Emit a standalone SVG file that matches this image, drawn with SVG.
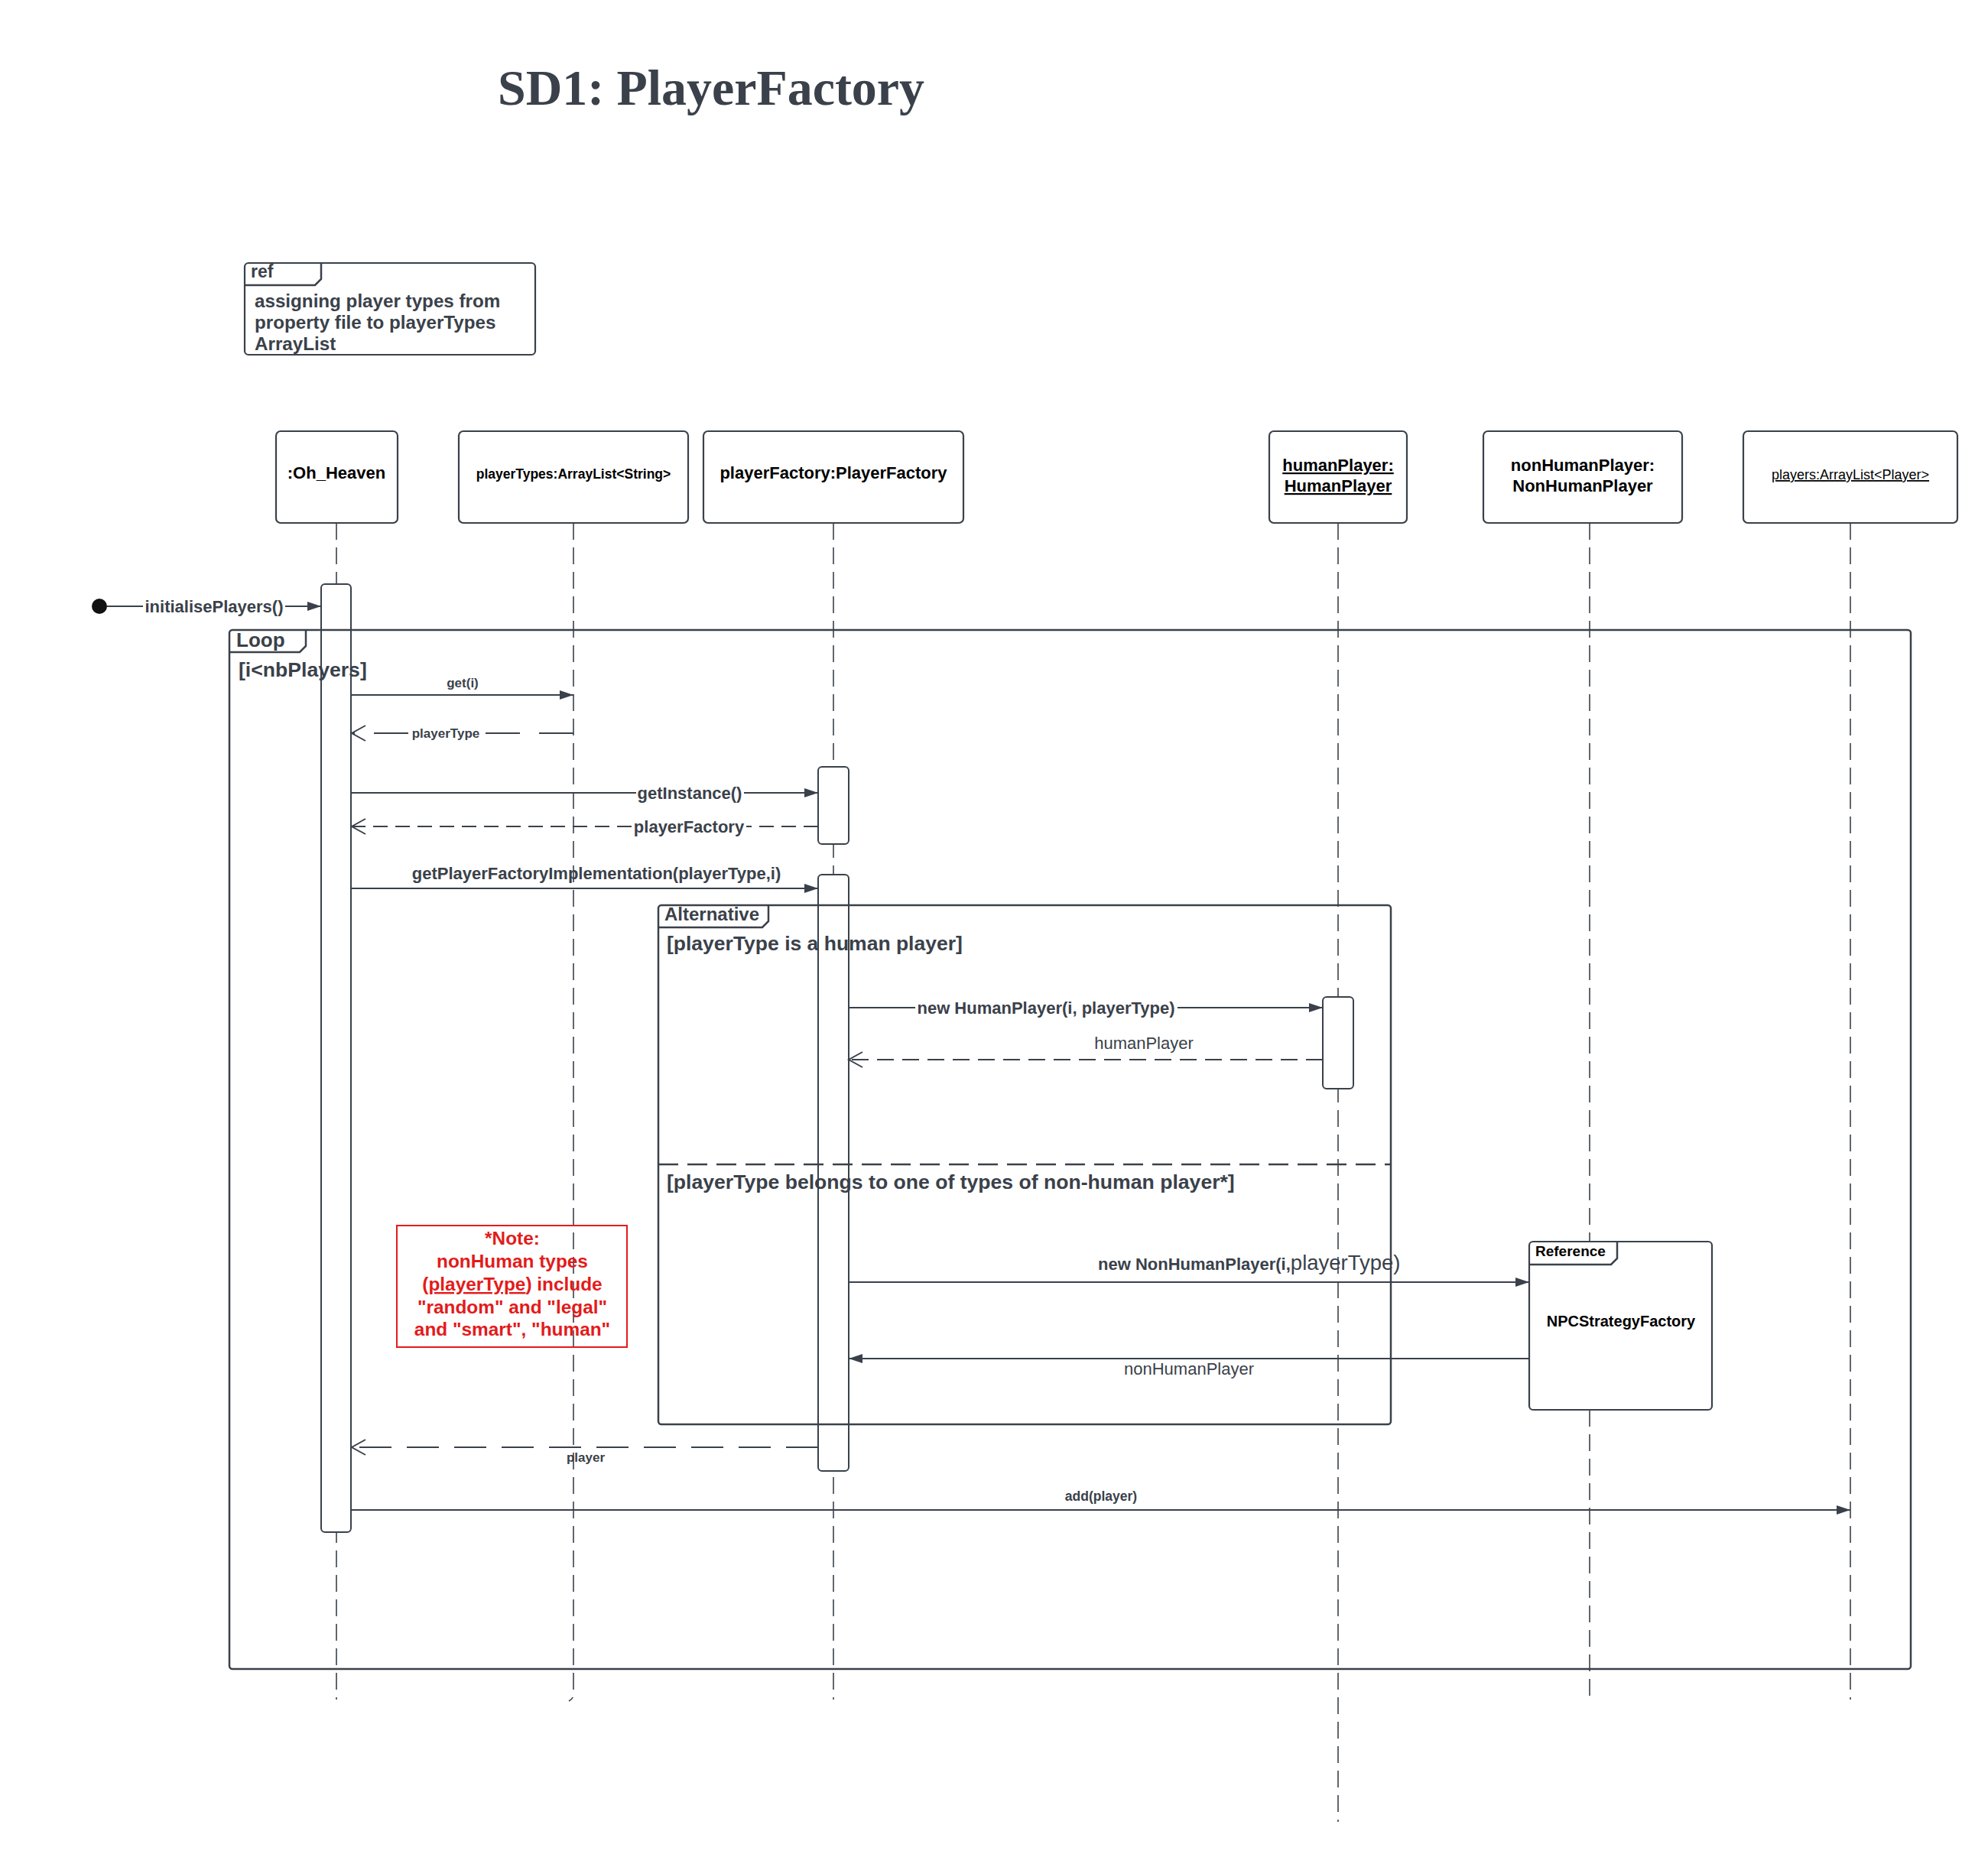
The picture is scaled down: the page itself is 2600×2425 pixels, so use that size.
<svg xmlns="http://www.w3.org/2000/svg" width="2600" height="2425" viewBox="0 0 2600 2425">
<defs>
<style>
.box{fill:#fff;stroke:#3a414a;stroke-width:2.2}
.ll{fill:none;stroke:#3a414a;stroke-width:1.6;stroke-dasharray:22 10}
.bar{fill:#fff;stroke:#3a414a;stroke-width:2}
.frame{fill:none;stroke:#3a414a;stroke-width:2.5}
.msg{fill:none;stroke:#3a414a;stroke-width:2.2}
text{font-family:"Liberation Sans",Arial,sans-serif}
.t{fill:#3a414a;font-weight:bold}
.r{fill:#3a414a;font-weight:normal}
.p{fill:#000;font-weight:bold;font-size:22px;text-anchor:middle}
.m{text-anchor:middle}
.note{fill:#e31b1b;font-weight:bold;font-size:24.4px;text-anchor:middle}
</style>
<marker id="fa" markerUnits="userSpaceOnUse" viewBox="0 0 18 12" markerWidth="18" markerHeight="12" refX="18" refY="6" orient="auto">
<path d="M0,0 L18,6 L0,12 z" fill="#3a414a"/>
</marker>
<marker id="oa" markerUnits="userSpaceOnUse" viewBox="0 0 20 22" markerWidth="20" markerHeight="22" refX="19" refY="11" orient="auto" overflow="visible">
<path d="M1,1 L19,11 L1,21" fill="none" stroke="#3a414a" stroke-width="2" stroke-dasharray="none"/>
</marker>
</defs>
<rect width="2600" height="2425" fill="#fff"/>

<text x="651" y="137" textLength="558" lengthAdjust="spacingAndGlyphs" font-weight="bold" font-size="65" fill="#3a414a" style="font-family:'Liberation Serif','Times New Roman',serif">SD1: PlayerFactory</text>

<g id="ref-assigning">
<rect class="box" x="320" y="344" width="380" height="120" rx="5"/>
<path class="frame" d="M320 373 H412 L420 365 V344"/>
<text class="t" x="328" y="363" font-size="23">ref</text>
<text class="t" font-size="24.2"><tspan x="333" y="402">assigning player types from</tspan><tspan x="333" y="430">property file to playerTypes</tspan><tspan x="333" y="458">ArrayList</tspan></text>
</g>

<g id="lifelines">
<path class="ll" d="M440 684 V2223"/>
<path class="ll" d="M750 684 V2216 Q750 2222 744 2225"/>
<path class="ll" d="M1090 684 V2223"/>
<path class="ll" d="M1750 684 V2383"/>
<path class="ll" d="M2079 684 V1624 M2079 1844 V2223"/>
<path class="ll" d="M2420 684 V2223"/>
</g>

<g id="p-ohheaven">
<rect class="box" x="361" y="564" width="159" height="120" rx="6"/>
<text class="p" x="440" y="626">:Oh_Heaven</text>
</g>
<g id="p-playertypes">
<rect class="box" x="600" y="564" width="300" height="120" rx="6"/>
<text class="p" x="750" y="626" style="font-size:17.5px">playerTypes:ArrayList&lt;String&gt;</text>
</g>
<g id="p-playerfactory">
<rect class="box" x="920" y="564" width="340" height="120" rx="6"/>
<text class="p" x="1090" y="626">playerFactory:PlayerFactory</text>
</g>
<g id="p-humanplayer">
<rect class="box" x="1660" y="564" width="180" height="120" rx="6"/>
<text class="p" text-decoration="underline"><tspan x="1750" y="616">humanPlayer:</tspan><tspan x="1750" y="643">HumanPlayer</tspan></text>
</g>
<g id="p-nonhumanplayer">
<rect class="box" x="1940" y="564" width="260" height="120" rx="6"/>
<text class="p"><tspan x="2070" y="616">nonHumanPlayer:</tspan><tspan x="2070" y="643">NonHumanPlayer</tspan></text>
</g>
<g id="p-players">
<rect class="box" x="2280" y="564" width="280" height="120" rx="6"/>
<text x="2420" y="627" font-size="18" fill="#000" text-anchor="middle" text-decoration="underline">players:ArrayList&lt;Player&gt;</text>
</g>

<g id="activations">
<rect class="bar" x="420" y="764" width="39" height="1240" rx="5"/>
<rect class="bar" x="1070" y="1003" width="40" height="101" rx="5"/>
<rect class="bar" x="1070" y="1144" width="40" height="780" rx="5"/>
<rect class="bar" x="1730" y="1304" width="40" height="120" rx="5"/>
</g>

<g id="frame-loop">
<rect class="frame" x="300" y="824" width="2199" height="1359" rx="4"/>
<path class="frame" d="M300 853 H392 L400 845 V824"/>
<text class="t" x="309" y="846" font-size="26">Loop</text>
<text class="t" x="312" y="885" font-size="26.6">[i&lt;nbPlayers]</text>
</g>

<g id="frame-alternative">
<rect class="frame" x="861" y="1184" width="958" height="679" rx="4"/>
<path class="frame" d="M861 1213 H997 L1005 1205 V1184"/>
<text class="t" x="869" y="1204" font-size="24">Alternative</text>
<text class="t" x="872" y="1243" font-size="26.5">[playerType is a human player]</text>
<path d="M861 1523 H1819" fill="none" stroke="#3a414a" stroke-width="2.5" stroke-dasharray="26 12"/>
<text class="t" x="872" y="1555" font-size="26.6">[playerType belongs to one of types of non-human player*]</text>
</g>

<g id="note">
<rect x="519" y="1603" width="301" height="159" fill="none" stroke="#e31b1b" stroke-width="2"/>
<text class="note"><tspan x="670" y="1628">*Note:</tspan><tspan x="670" y="1658">nonHuman types</tspan><tspan x="670" y="1688">(<tspan text-decoration="underline">playerType</tspan>) include</tspan><tspan x="670" y="1718">"random" and "legal"</tspan><tspan x="670" y="1747">and "smart", "human"</tspan></text>
</g>

<g id="ref-npcstrategyfactory">
<rect class="box" x="2000" y="1624" width="239" height="220" rx="5"/>
<path class="frame" d="M2000 1654 H2107 L2115 1646 V1624"/>
<text x="2008" y="1643" font-size="19" font-weight="bold" fill="#000">Reference</text>
<text x="2120" y="1735" font-size="20" font-weight="bold" fill="#000" text-anchor="middle">NPCStrategyFactory</text>
</g>

<g id="connectors">
<circle cx="130" cy="793" r="10" fill="#111"/>
<path class="msg" d="M140 793 H187 M373 793 H420" marker-end="url(#fa)"/>
<text class="t m" x="280" y="801" font-size="22">initialisePlayers()</text>

<path class="msg" d="M460 909 H750" marker-end="url(#fa)"/>
<text class="t m" x="605" y="899" font-size="17">get(i)</text>

<path class="msg" d="M750 959 H632 M534 959 H460" stroke-dasharray="45 25" marker-end="url(#oa)"/>
<text class="t m" x="583" y="965" font-size="17">playerType</text>

<path class="msg" d="M460 1037 H832 M973 1037 H1070" marker-end="url(#fa)"/>
<text class="t m" x="902" y="1045" font-size="22">getInstance()</text>

<path class="msg" d="M1070 1081 H976 M826 1081 H460" stroke-dasharray="19 10" marker-end="url(#oa)"/>
<text class="t m" x="901" y="1089" font-size="22">playerFactory</text>

<path class="msg" d="M460 1162 H1070" marker-end="url(#fa)"/>
<text class="t m" x="780" y="1150" font-size="22">getPlayerFactoryImplementation(playerType,i)</text>

<path class="msg" d="M1110 1318 H1197 M1540 1318 H1730" marker-end="url(#fa)"/>
<text class="t m" x="1368" y="1326" font-size="22">new HumanPlayer(i, playerType)</text>

<path class="msg" d="M1730 1386 H1110" stroke-dasharray="22 11" marker-end="url(#oa)"/>
<text class="r m" x="1496" y="1372" font-size="22">humanPlayer</text>

<path class="msg" d="M1110 1677 H2000" stroke-width="3" marker-end="url(#fa)"/>
<text class="t" x="1436" y="1661" font-size="22">new NonHumanPlayer(i,<tspan font-size="27.5" font-weight="normal">playerType)</tspan></text>

<path class="msg" d="M2000 1777 H1110" marker-end="url(#fa)"/>
<text class="r m" x="1555" y="1798" font-size="22">nonHumanPlayer</text>

<path class="msg" d="M1070 1893 H460" stroke-dasharray="42 20" marker-end="url(#oa)"/>
<text class="t m" x="766" y="1912" font-size="17">player</text>

<path class="msg" d="M460 1975 H2420" marker-end="url(#fa)"/>
<text class="t m" x="1440" y="1963" font-size="17.5">add(player)</text>
</g>
</svg>
